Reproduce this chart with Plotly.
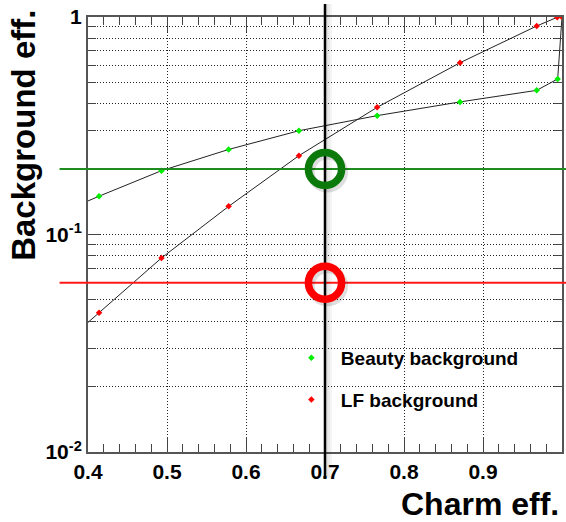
import plotly.graph_objects as go

# Efficiency curves: charm efficiency vs. background efficiency
charm_eff_b = [0.33, 0.414, 0.493, 0.578, 0.667, 0.766, 0.871, 0.968, 0.9945, 1.0]
beauty_bkg = [0.111, 0.150, 0.1965, 0.246, 0.300, 0.352, 0.407, 0.460, 0.519, 1.0]

charm_eff_lf = [0.33, 0.414, 0.493, 0.578, 0.667, 0.766, 0.871, 0.968, 0.994, 1.0]
lf_bkg = [0.0236, 0.0437, 0.0780, 0.1347, 0.2304, 0.3843, 0.6165, 0.909, 0.997, 1.0]

# Working point
wp_charm = 0.7
wp_beauty = 0.2
wp_lf = 0.06

x_ticks = [0.4, 0.5, 0.6, 0.7, 0.8, 0.9, 1.0]
x_ticktext = ["0.4", "0.5", "0.6", "0.7", "0.8", "0.9", "1"]
y_ticks = [0.01, 0.1, 1.0]
y_ticktext = ["10<sup>-2</sup>", "10<sup>-1</sup>", "1"]
y_minor = [0.02, 0.03, 0.04, 0.05, 0.06, 0.07, 0.08, 0.09,
           0.2, 0.3, 0.4, 0.5, 0.6, 0.7, 0.8, 0.9]

FONT = "Liberation Sans, Arial, Helvetica, sans-serif"
GREEN_PT = "#00ee00"
RED_PT = "#ff0000"
GREEN_LINE = "#1e8c1e"
RED_LINE = "#ff1a1a"
GRID_DASH = "1px,2px"

fig = go.Figure()

for xs, ys, col, name, grp in [
    (charm_eff_b, beauty_bkg, GREEN_PT, "Beauty background", "b"),
    (charm_eff_lf, lf_bkg, RED_PT, "LF background", "lf"),
]:
    fig.add_trace(go.Scatter(x=xs, y=ys, mode="lines",
                             line=dict(color="#222222", width=1),
                             showlegend=False, hoverinfo="skip"))
    fig.add_trace(go.Scatter(x=xs, y=ys, mode="markers", name=name,
                             legendgroup=grp,
                             marker=dict(symbol="diamond", size=5, color=col,
                                         line=dict(width=0))))

# empty traces so the mirrored tick axes (top / right) get drawn
fig.add_trace(go.Scatter(x=[], y=[], xaxis="x2", yaxis="y", showlegend=False))
fig.add_trace(go.Scatter(x=[], y=[], xaxis="x", yaxis="y2", showlegend=False))

# white legend panel, above the grid but below the curves
fig.add_shape(type="rect", xref="paper", yref="paper",
              x0=0.403, x1=0.930, y0=0.067, y1=0.271,
              fillcolor="white", line_width=0, layer="between")


def hline(yval, color):
    # soft drop shadow below the line
    for off in (3, 5, 7, 10):
        fig.add_shape(type="rect", xref="paper", x0=-0.06, x1=1.01,
                      yref="y", ysizemode="pixel", yanchor=yval,
                      y0=-1, y1=-off, fillcolor="rgba(0,0,0,0.04)",
                      line_width=0, layer="above")
    fig.add_shape(type="line", xref="paper", x0=-0.06, x1=1.01,
                  yref="y", y0=yval, y1=yval,
                  line=dict(color=color, width=2), layer="above")


RING_RX = 0.021     # ring radius along x (charm-eff units)
RING_RDEX = 0.076   # ring radius along y (decades)


def ring(yval, color):
    # faint shadow, shifted down-right
    fig.add_shape(type="circle", xref="x", yref="y",
                  x0=wp_charm - RING_RX + 0.003, x1=wp_charm + RING_RX + 0.003,
                  y0=yval / 10 ** (RING_RDEX + 0.014),
                  y1=yval * 10 ** (RING_RDEX - 0.014),
                  line=dict(color="rgba(0,0,0,0.13)", width=8), layer="above")
    fig.add_shape(type="circle", xref="x", yref="y",
                  x0=wp_charm - RING_RX, x1=wp_charm + RING_RX,
                  y0=yval / 10 ** RING_RDEX, y1=yval * 10 ** RING_RDEX,
                  line=dict(color=color, width=7.5), layer="above")


hline(wp_beauty, GREEN_LINE)
hline(wp_lf, RED_LINE)

# vertical marker at the working-point charm efficiency
for off in (3, 5, 7):
    fig.add_shape(type="rect", xref="x", xsizemode="pixel", xanchor=wp_charm,
                  x0=1, x1=off, yref="paper", y0=-0.06, y1=1.03,
                  fillcolor="rgba(0,0,0,0.04)", line_width=0, layer="above")
fig.add_shape(type="line", xref="x", x0=wp_charm, x1=wp_charm,
              yref="paper", y0=-0.06, y1=1.03,
              line=dict(color="black", width=2.5), layer="above")

ring(wp_beauty, "#0b7a0b")
ring(wp_lf, "#ff0000")

tickfont = dict(family=FONT, size=21, color="black", weight="bold")
TICK_COL = "#444444"

x_common = dict(
    range=[0.4, 1.0], tickmode="array", tickvals=x_ticks,
    ticks="inside", ticklen=15, tickwidth=1.2, tickcolor=TICK_COL,
    showline=True, linecolor="#555555", linewidth=2, zeroline=False,
    minor=dict(tick0=0.4, dtick=0.02, ticks="inside", ticklen=8,
               tickwidth=1.2, tickcolor=TICK_COL, showgrid=False),
)
y_common = dict(
    type="log", range=[-2, 0], tickmode="array", tickvals=y_ticks,
    ticks="inside", ticklen=12, tickwidth=1.2, tickcolor=TICK_COL,
    showline=True, linecolor="#555555", linewidth=2, zeroline=False,
)

fig.update_layout(
    xaxis=dict(**x_common, ticktext=x_ticktext, tickfont=tickfont,
               showgrid=True, gridcolor="#222222", griddash=GRID_DASH,
               gridwidth=1),
    xaxis2=dict(**x_common, overlaying="x", side="top", anchor="y",
                showticklabels=False, showgrid=False),
    yaxis=dict(**y_common, ticktext=y_ticktext, tickfont=tickfont,
               showgrid=True, gridcolor="#222222", griddash=GRID_DASH,
               gridwidth=1,
               minor=dict(tickmode="array", tickvals=y_minor, ticks="inside",
                          ticklen=8, tickwidth=1.2, tickcolor=TICK_COL,
                          showgrid=True, gridcolor="#222222",
                          griddash=GRID_DASH, gridwidth=1)),
    yaxis2=dict(**y_common, overlaying="y", side="right", anchor="x",
                showticklabels=False, showgrid=False,
                minor=dict(tickmode="array", tickvals=y_minor, ticks="inside",
                           ticklen=8, tickwidth=1.2, tickcolor=TICK_COL,
                           showgrid=False)),
)

fig.add_annotation(text="Charm eff.", xref="paper", yref="paper",
                   x=0.998, y=-0.12, xanchor="right", yanchor="middle",
                   showarrow=False,
                   font=dict(family=FONT, size=32, color="black", weight="bold"))
fig.add_annotation(text="Background eff.", xref="paper", yref="paper",
                   x=-0.135, y=1.02, xanchor="center", yanchor="top",
                   textangle=-90, showarrow=False,
                   font=dict(family=FONT, size=33, color="black", weight="bold"))

fig.update_layout(
    width=566, height=522,
    margin=dict(l=88, r=4, t=17, b=70),
    plot_bgcolor="white", paper_bgcolor="white",
    font=dict(family=FONT),
    legend=dict(x=0.409, y=0.26, xanchor="left", yanchor="top",
                bgcolor="rgba(0,0,0,0)", traceorder="grouped",
                tracegroupgap=14, itemwidth=49,
                font=dict(family=FONT, size=19, color="black", weight="bold")),
)

fig.write_html("out.html")
